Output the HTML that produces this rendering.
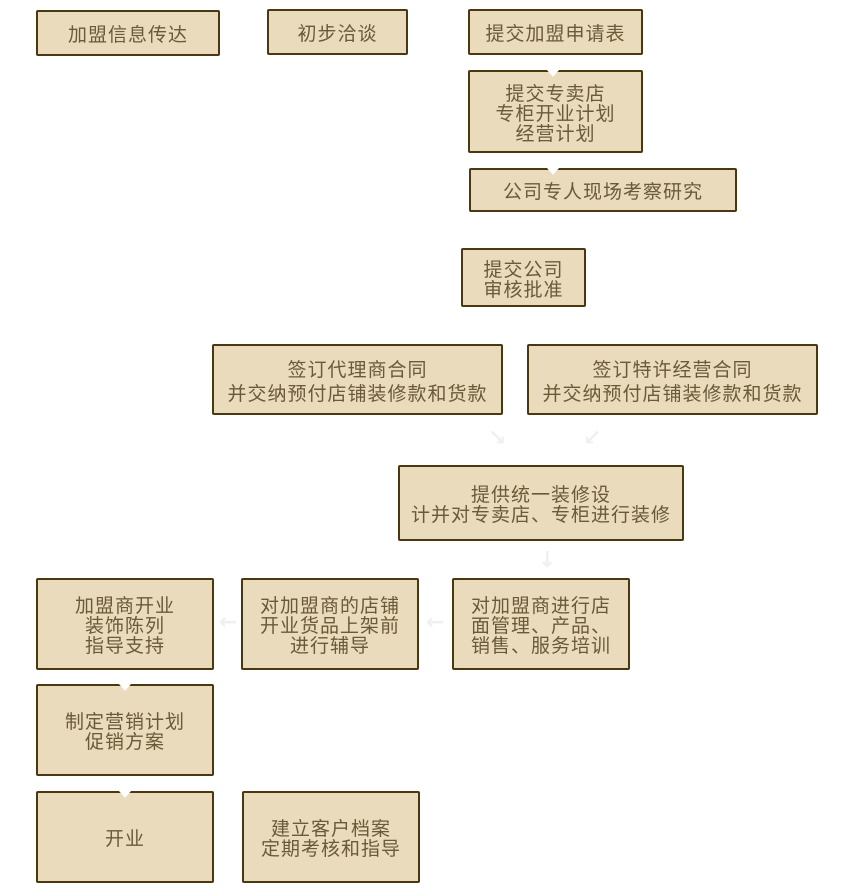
<!DOCTYPE html>
<html><head><meta charset="utf-8"><style>
body{margin:0;width:863px;height:896px;background:#fff;position:relative;overflow:hidden}
.b{position:absolute;box-sizing:border-box;background:#e9dbbb;border:2px solid #4a3810;border-radius:2px;display:flex;align-items:center;justify-content:center;text-align:center;color:#6b5a3a;font:19px/20px "Liberation Sans","Noto Sans CJK SC",sans-serif;letter-spacing:1px;padding-top:6px}
.n{position:absolute;width:0;height:0;border-left:6px solid transparent;border-right:6px solid transparent;border-top:7px solid #fff}
.a{position:absolute;color:#f0f0f0;font:22px/22px "DejaVu Sans",sans-serif;font-weight:bold}
</style></head><body>
<div class="b" style="left:36px;top:10px;width:184px;height:46px">加盟信息传达</div>
<div class="b" style="left:267px;top:9px;width:141px;height:46px">初步洽谈</div>
<div class="b" style="left:468px;top:9px;width:175px;height:46px">提交加盟申请表</div>
<div class="b" style="left:468px;top:70px;width:175px;height:83px">提交专卖店<br>专柜开业计划<br>经营计划</div>
<div class="b" style="left:469px;top:168px;width:268px;height:44px">公司专人现场考察研究</div>
<div class="b" style="left:461px;top:248px;width:125px;height:59px">提交公司<br>审核批准</div>
<div class="b" style="left:212px;top:344px;width:291px;height:71px;line-height:24px">签订代理商合同<br>并交纳预付店铺装修款和货款</div>
<div class="b" style="left:527px;top:344px;width:291px;height:71px;line-height:24px">签订特许经营合同<br>并交纳预付店铺装修款和货款</div>
<div class="b" style="left:398px;top:465px;width:286px;height:76px">提供统一装修设<br>计并对专卖店、专柜进行装修</div>
<div class="b" style="left:36px;top:578px;width:178px;height:92px">加盟商开业<br>装饰陈列<br>指导支持</div>
<div class="b" style="left:241px;top:578px;width:178px;height:92px">对加盟商的店铺<br>开业货品上架前<br>进行辅导</div>
<div class="b" style="left:452px;top:578px;width:178px;height:92px">对加盟商进行店<br>面管理、产品、<br>销售、服务培训</div>
<div class="b" style="left:36px;top:684px;width:178px;height:92px">制定营销计划<br>促销方案</div>
<div class="b" style="left:36px;top:791px;width:178px;height:92px">开业</div>
<div class="b" style="left:242px;top:791px;width:178px;height:92px">建立客户档案<br>定期考核和指导</div>
<div class="n" style="left:547px;top:70px"></div>
<div class="n" style="left:547px;top:168px"></div>
<div class="n" style="left:119px;top:684px"></div>
<div class="n" style="left:119px;top:791px"></div>
<div class="a" style="left:488px;top:428px">↘</div>
<div class="a" style="left:583px;top:428px">↙</div>
<div class="a" style="left:538px;top:550px">↓</div>
<div class="a" style="left:426px;top:612px">←</div>
<div class="a" style="left:219px;top:612px">←</div>
</body></html>
